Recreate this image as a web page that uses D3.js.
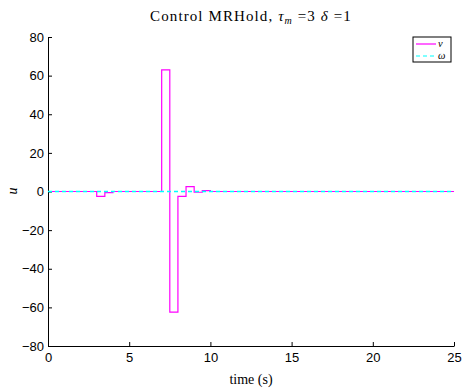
<!DOCTYPE html>
<html><head><meta charset="utf-8">
<script src="https://cdn.jsdelivr.net/npm/d3@7"></script>
<style>body{margin:0;background:#fff}svg{display:block}</style>
</head><body>
<svg id="c" width="462" height="392"></svg>
<script>
// Step-hold samples (value held from t until next t)
const vTimes  = [0, 3, 3.5, 4, 7, 7.5, 8, 8.5, 9, 9.5, 10, 25];
const vValues = [0, -2.5, -0.6, 0, 63, -62.5, -2.5, 2.5, -0.4, 0.5, 0, 0];
const wTimes  = [0, 25];
const wValues = [0, 0];
const xTicks = [0, 5, 10, 15, 20, 25];
const yTicks = [-80, -60, -40, -20, 0, 20, 40, 60, 80];

const svg = d3.select("#c");
const L = 48, R = 454, T = 37, B = 346;
const x = d3.scaleLinear().domain([0, 25]).range([L, R]);
const y = d3.scaleLinear().domain([-80, 80]).range([B, T]);

const fmt = d => (d < 0 ? "\u2212" + Math.abs(d) : String(d));

// axes
const gx = svg.append("g").attr("transform", `translate(0,${B})`)
  .call(d3.axisBottom(x).tickValues(xTicks).tickSizeInner(-4).tickSizeOuter(0).tickPadding(7).tickFormat(fmt));
const gy = svg.append("g").attr("transform", `translate(${L},0)`)
  .call(d3.axisLeft(y).tickValues(yTicks).tickSizeInner(-4).tickSizeOuter(0).tickPadding(4).tickFormat(fmt));
[gx, gy].forEach(g => {
  g.selectAll("path,line").attr("stroke", "#000").attr("stroke-width", 1);
  g.selectAll("text").attr("font-family", "Liberation Sans, Arial, sans-serif").attr("font-size", 13).attr("fill", "#000");
});

// lines
const line = d3.line().x(d => x(d[0])).y(d => y(d[1])).curve(d3.curveStepAfter);
svg.append("path").datum(vTimes.map((t, i) => [t, vValues[i]]))
  .attr("d", line).attr("fill", "none").attr("stroke", "#ff00ff").attr("stroke-width", 1.2);
svg.append("path").datum(wTimes.map((t, i) => [t, wValues[i]]))
  .attr("d", line).attr("fill", "none").attr("stroke", "#00ffff").attr("stroke-width", 1.3).attr("stroke-dasharray", "4,3");

// title
const serif = "Liberation Serif, Times New Roman, serif";
const title = svg.append("text").attr("x", 251).attr("y", 21).attr("text-anchor", "middle")
  .attr("font-family", serif).attr("font-size", 15).attr("letter-spacing", 1.1).attr("fill", "#000");
title.append("tspan").text("Control MRHold, ");
title.append("tspan").attr("font-style", "italic").text("\u03C4");
title.append("tspan").attr("font-style", "italic").attr("font-size", 10).attr("dy", 3).text("m");
title.append("tspan").attr("dy", -3).text(" =3 ");
title.append("tspan").attr("font-style", "italic").text("\u03B4");
title.append("tspan").text(" =1");

// axis labels
svg.append("text").attr("x", 251).attr("y", 384).attr("text-anchor", "middle")
  .attr("font-family", serif).attr("font-size", 14).text("time (s)");
svg.append("text").attr("transform", "translate(17,191) rotate(-90)").attr("text-anchor", "middle")
  .attr("font-family", serif).attr("font-style", "italic").attr("font-size", 14).text("u");

// legend
const lg = svg.append("g").attr("transform", "translate(413,37)");
lg.append("rect").attr("width", 38).attr("height", 25).attr("fill", "#fff").attr("stroke", "#000").attr("stroke-width", 1);
const leg = [["v", "#ff00ff", null], ["\u03C9", "#00ffff", "4,3"]];
leg.forEach((d, i) => {
  const yy = 7 + i * 12;
  lg.append("line").attr("x1", 3).attr("x2", 23).attr("y1", yy).attr("y2", yy)
    .attr("stroke", d[1]).attr("stroke-width", 1.2).attr("stroke-dasharray", d[2]);
  lg.append("text").attr("x", 25).attr("y", yy + 3).attr("font-family", serif).attr("font-style", "italic")
    .attr("font-size", 10.5).text(d[0]);
});
</script>
</body></html>
